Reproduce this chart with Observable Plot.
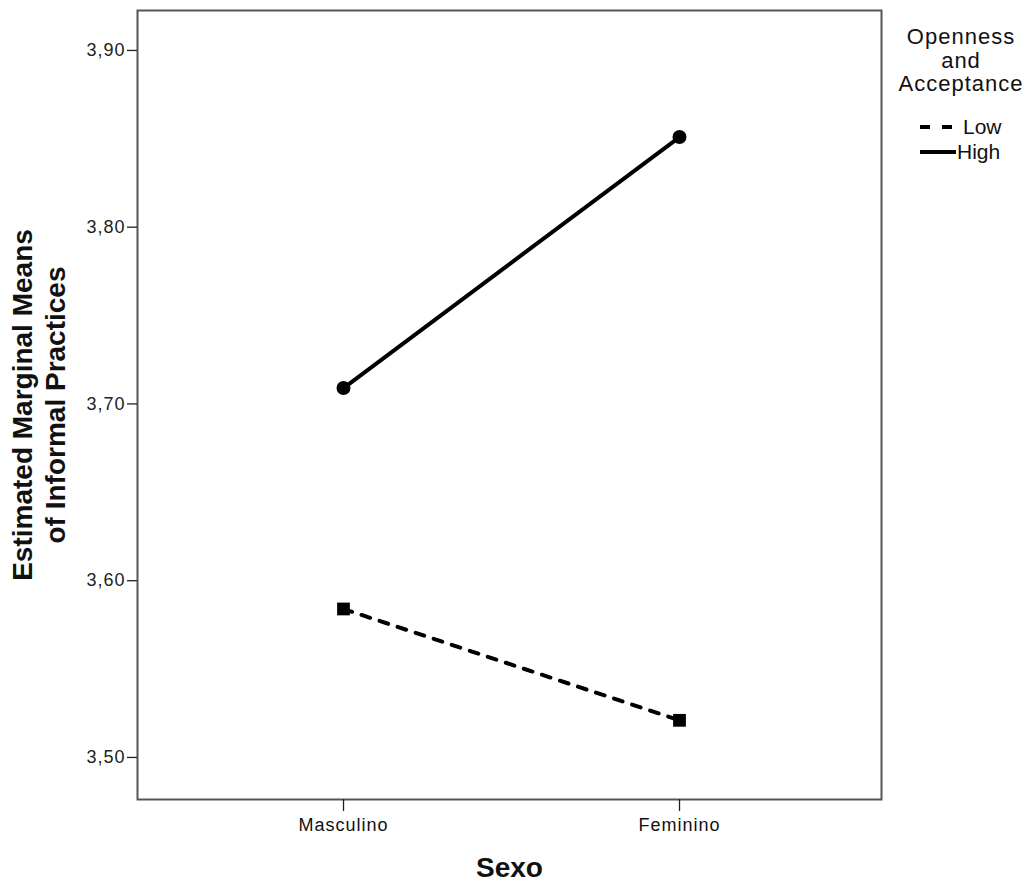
<!DOCTYPE html>
<html>
<head>
<meta charset="utf-8">
<script src="https://cdn.jsdelivr.net/npm/d3@7"></script>
<script src="https://cdn.jsdelivr.net/npm/@observablehq/plot@0.6"></script>
<style>
  html, body { margin: 0; padding: 0; background: #fff; }
  #wrap { position: relative; width: 1034px; height: 886px; font-family: "Liberation Sans", Arial, sans-serif; }
  #legend { position: absolute; left: 888px; top: 25px; width: 146px; color: #111; }
  #legend .title { text-align: center; font-size: 22px; line-height: 23.5px; letter-spacing: 1px; }
  #legend .row { display: flex; align-items: center; font-size: 21px; height: 25px; margin-left: 31px; }
  #chart g[aria-label="y-axis tick label"] text,
  #chart g[aria-label="x-axis tick label"] text { letter-spacing: 1px; }
</style>
</head>
<body>
<div id="wrap">
  <div id="chart"></div>
  <div id="legend"></div>
</div>
<script>
const categories = ["Masculino", "Feminino"];
const groups = ["Low", "High"];
const lowValues = [3.584, 3.521];
const highValues = [3.709, 3.851];
const yTicks = [3.5, 3.6, 3.7, 3.8, 3.9];
const legendTitle = ["Openness", "and", "Acceptance"];

const data = [
  ...categories.map((c, i) => ({sexo: c, group: "Low", value: lowValues[i]})),
  ...categories.map((c, i) => ({sexo: c, group: "High", value: highValues[i]}))
];

const W = 1034, H = 886;
const mL = 137, mR = 153, mT = 10, mB = 87;
const fmt = d => d3.format(".2f")(d).replace(".", ",");

const chart = Plot.plot({
  width: W,
  height: H,
  marginLeft: mL,
  marginRight: mR,
  marginTop: mT,
  marginBottom: mB,
  style: {fontFamily: "Liberation Sans, Arial, sans-serif", color: "#111", background: "#fff"},
  x: {type: "point", domain: categories, range: [343, 679], padding: 0, label: null},
  y: {domain: [3.4762, 3.9226], ticks: yTicks, tickFormat: fmt, label: null},
  marks: [
    Plot.frame({stroke: "#555", strokeWidth: 2}),
    Plot.axisY({ticks: yTicks, tickFormat: fmt, tickSize: 10, tickPadding: 2, stroke: "#222", strokeWidth: 1.3, fill: "#222", fontSize: 18, label: null}),
    Plot.axisX({tickSize: 12, tickPadding: 7, stroke: "#222", strokeWidth: 1.3, fill: "#111", fontSize: 18, label: null}),
    Plot.line(data.filter(d => d.group === "High"), {x: "sexo", y: "value", stroke: "#000", strokeWidth: 4}),
    Plot.line(data.filter(d => d.group === "Low"), {x: "sexo", y: "value", stroke: "#000", strokeWidth: 4, strokeDasharray: "9,10"}),
    Plot.dot(data.filter(d => d.group === "High"), {x: "sexo", y: "value", fill: "#000", r: 7, symbol: "circle"}),
    Plot.dot(data.filter(d => d.group === "Low"), {x: "sexo", y: "value", fill: "#000", r: 7.2, symbol: "square"}),
    Plot.text(["Sexo"], {frameAnchor: "bottom", dy: 77, text: d => d, fontSize: 28, fontWeight: "bold", fill: "#111"}),
    Plot.text(["Estimated Marginal Means\nof Informal Practices"], {frameAnchor: "left", textAnchor: "middle", dx: -100, rotate: -90, text: d => d, fontSize: 28, fontWeight: "bold", fill: "#111", lineHeight: 1.18})
  ]
});
document.getElementById("chart").appendChild(chart);

const legend = document.getElementById("legend");
const t = document.createElement("div");
t.className = "title";
t.innerHTML = legendTitle.join("<br>");
legend.appendChild(t);
const sp = document.createElement("div");
sp.style.height = "19px";
legend.appendChild(sp);
groups.forEach(g => {
  const row = document.createElement("div");
  row.className = "row";
  const dash = g === "Low" ? 'stroke-dasharray="10,12"' : "";
  const gap = g === "Low" ? 8 : 2;
  row.innerHTML = `<svg width="38" height="10"><line x1="1" x2="37" y1="5" y2="5" stroke="#000" stroke-width="4" ${dash}/></svg><span style="margin-left:${gap - 2}px">${g}</span>`;
  legend.appendChild(row);
});
</script>
</body>
</html>
